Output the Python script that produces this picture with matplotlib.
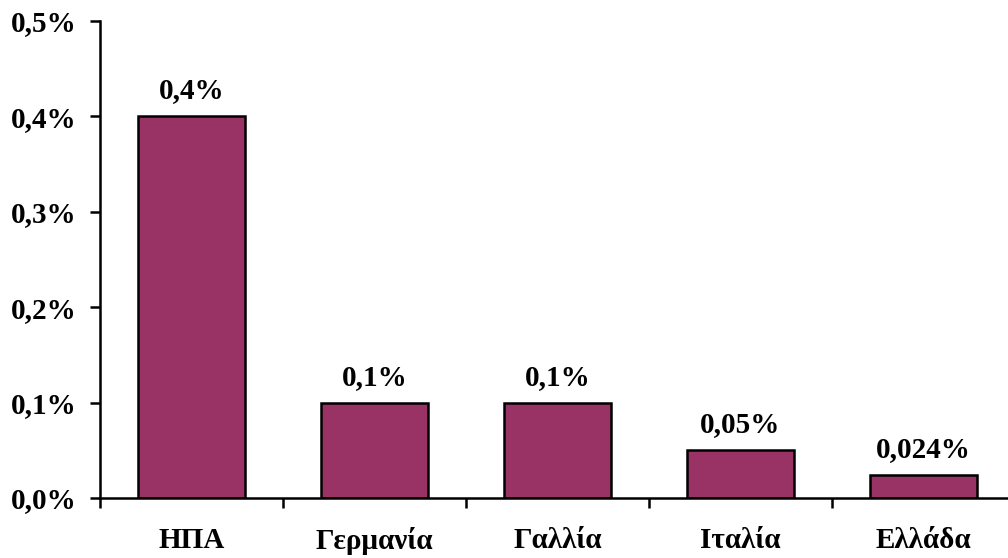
import matplotlib
matplotlib.use("Agg")
from matplotlib import pyplot as plt
from matplotlib.ticker import FuncFormatter, FixedLocator
import numpy as np

countries = ['ΗΠΑ', 'Γερμανία', 'Γαλλία', 'Ιταλία', 'Ελλάδα']
values = [0.4, 0.1, 0.1, 0.05, 0.024]
value_labels = ['0,4%', '0,1%', '0,1%', '0,05%', '0,024%']

plt.rcParams['font.family'] = ['Liberation Serif', 'DejaVu Serif']
plt.rcParams['font.weight'] = 'bold'

fig = plt.figure(figsize=(10.08, 5.58), dpi=100)
ax = fig.add_axes([100 / 1008, 60 / 558, 908 / 1008, 477 / 558])

x = np.arange(len(countries))
bars = ax.bar(x, values, width=0.59, color='#993366', edgecolor='black', linewidth=1.8)

for rect, lab in zip(bars, value_labels):
    ax.annotate(lab, (rect.get_x() + rect.get_width() / 2, rect.get_height()),
                xytext=(0, 12), textcoords='offset pixels',
                ha='center', va='bottom', fontsize=21, fontweight='bold')

ax.set_ylim(0, 0.5)
ax.set_xlim(-0.5, -0.5 + 908 / 183)
ax.set_yticks(np.arange(0, 0.51, 0.1))
ax.yaxis.set_major_formatter(FuncFormatter(lambda v, p: f'{v:.1f}%'.replace('.', ',')))

# category labels centred, tick marks between categories
ax.set_xticks(x)
ax.set_xticklabels(countries, fontsize=21, fontweight='bold')
ax.xaxis.set_minor_locator(FixedLocator(np.arange(-0.5, 5, 1)))
ax.tick_params(axis='x', which='major', length=0, pad=21)
ax.tick_params(axis='x', which='minor', length=7, width=1.8, direction='out')
ax.tick_params(axis='y', length=7, width=1.8, direction='out', pad=10, labelsize=21)

for s in ['top', 'right']:
    ax.spines[s].set_visible(False)
for s in ['left', 'bottom']:
    ax.spines[s].set_linewidth(1.8)

fig.savefig('out.png', dpi=100)
